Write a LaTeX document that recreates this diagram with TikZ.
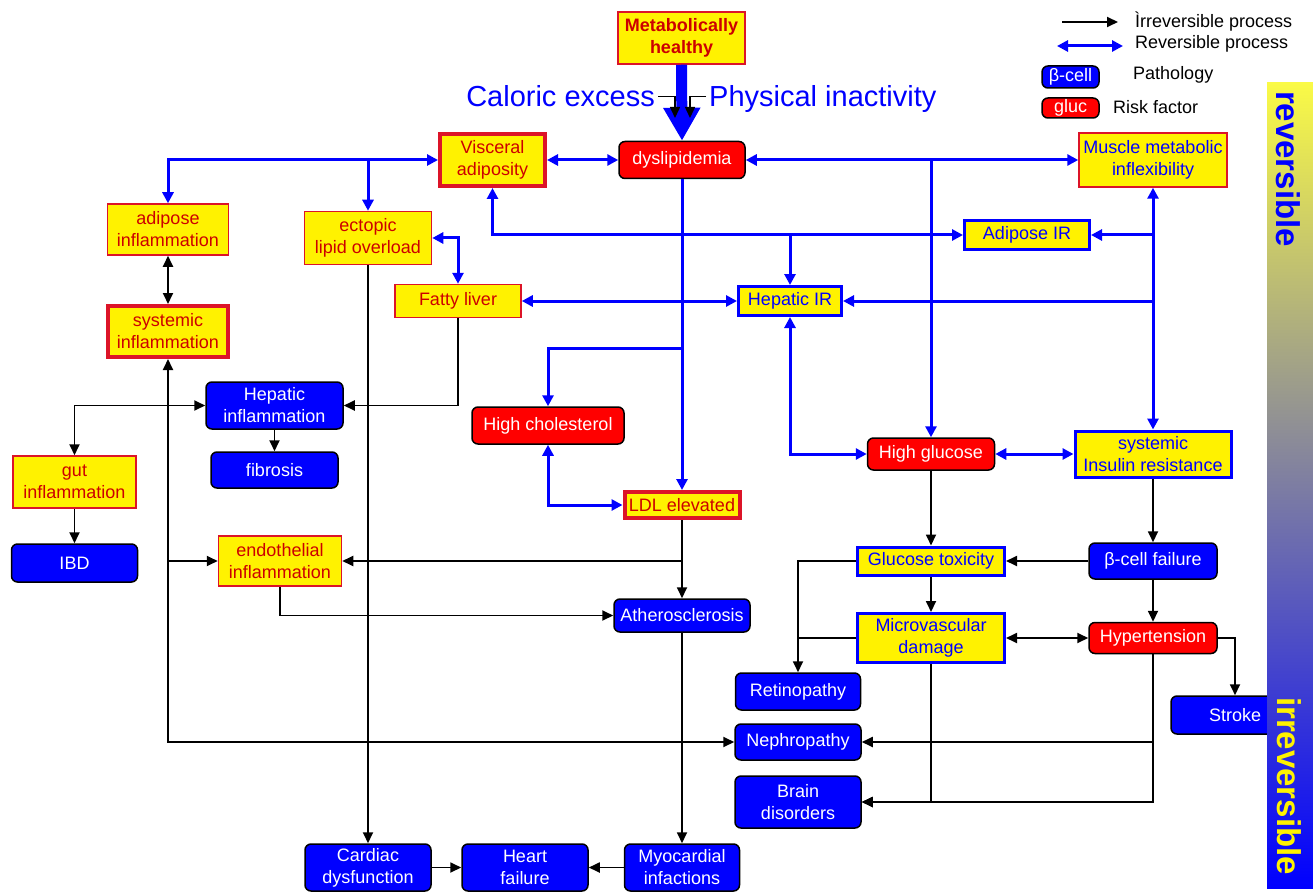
\documentclass[tikz,border=0pt]{standalone}
\usepackage{fontspec}
\setmainfont{Liberation Sans}
\usetikzlibrary{arrows.meta}
\definecolor{tred}{RGB}{204,0,0}
\definecolor{bred}{RGB}{220,20,40}
\definecolor{bartop}{RGB}{250,250,70}
\definecolor{barmid}{RGB}{190,190,170}
\begin{document}
\begin{tikzpicture}[x=1pt,y=-1pt,
  every node/.style={inner sep=0pt, align=center, font=\fontsize{18}{22}\selectfont},
  yb/.style={fill=yellow, draw=bred, line width=1.5pt, text=tred},
  ybt/.style={fill=yellow, draw=bred, line width=4pt, text=tred},
  yblu/.style={fill=yellow, draw=blue, line width=3pt, text=blue},
  rb/.style={fill=red, draw=black, line width=1.5pt, rounded corners=6pt, text=white},
  bb/.style={fill=blue, draw=black, line width=1.5pt, rounded corners=6pt, text=white},
  sz/.style 2 args={minimum width=#1pt, minimum height=#2pt},
  bl/.style={draw=blue, line width=3pt, >={Triangle[length=11pt,width=11pt]}},
  bk/.style={draw=black, line width=1.8pt, >={Triangle[length=11pt,width=10pt]}},
  big/.style={font=\fontsize{29}{32}\selectfont, text=blue},
  bartxt/.style={font=\fontsize{33}{36}\selectfont\bfseries, rotate=-90},
  legt/.style={anchor=west, font=\fontsize{18}{22}\selectfont}]
\useasboundingbox (0,0) rectangle (1313,893);

% ---------- nodes ----------
\node[yb, sz={127}{52}, font=\fontsize{18}{22}\selectfont\bfseries] (mh) at (681.5,38) {Metabolically\\healthy};
\node[rb, sz={126}{37}] (dysl) at (682,160) {dyslipidemia};
\node[ybt, sz={105}{52}] (visc) at (492.5,160) {Visceral\\adiposity};
\node[yb, sz={148}{54}, text=blue] (musc) at (1153,160) {Muscle metabolic\\inflexibility};
\node[yb, sz={121}{51}] (adinf) at (168,229.5) {adipose\\inflammation};
\node[yb, sz={127}{53}] (ectop) at (368,238) {ectopic\\lipid overload};
\node[yblu, sz={125}{29}] (adir) at (1027,235) {Adipose IR};
\node[yb, sz={126}{33}] (fatty) at (458,301) {Fatty liver};
\node[yblu, sz={103}{29}] (hepir) at (790,301) {Hepatic IR};
\node[ybt, sz={120}{51}] (sysinf) at (168,331.5) {systemic\\inflammation};
\node[bb, sz={137}{47}] (hepinf) at (274.5,405.5) {Hepatic\\inflammation};
\node[rb, sz={152}{37}] (hchol) at (548,425.5) {High cholesterol};
\node[rb, sz={127}{32}] (hglu) at (931,454) {High glucose};
\node[yblu, sz={156}{46}] (sir) at (1153,454) {systemic\\Insulin resistance};
\node[bb, sz={127}{36}] (fibr) at (274.5,470) {fibrosis};
\node[yb, sz={123}{52}] (gut) at (74.5,482) {gut\\inflammation};
\node[ybt, sz={115}{26}] (ldl) at (682,505) {LDL elevated};
\node[bb, sz={126}{38}] (ibd) at (74.5,563) {IBD};
\node[yb, sz={123}{50}] (endo) at (280,561) {endothelial\\inflammation};
\node[yblu, sz={147}{28}] (gtox) at (931,561) {Glucose toxicity};
\node[bb, sz={128}{36}] (bcf) at (1153,561) {β-cell failure};
\node[bb, sz={136}{33}] (ath) at (682,615.5) {Atherosclerosis};
\node[yblu, sz={147}{49}] (micro) at (931,638) {Microvascular\\damage};
\node[rb, sz={128}{31}] (hyp) at (1153,638) {Hypertension};
\node[bb, sz={125}{37}] (ret) at (798,691.5) {Retinopathy};
\node[bb, sz={128}{38}] (stroke) at (1235,715) {Stroke};
\node[bb, sz={126}{36}] (neph) at (798,742) {Nephropathy};
\node[bb, sz={126}{52}] (brain) at (798,802) {Brain\\disorders};
\node[bb, sz={126}{47}] (card) at (368,867.5) {Cardiac\\dysfunction};
\node[bb, sz={126}{47}] (hf) at (525,867.5) {Heart\\failure};
\node[bb, sz={115}{47}] (myo) at (682,867.5) {Myocardial\\infactions};

% ---------- causes ----------
\node[big, anchor=base east] (cal) at (655,107) {Caloric excess};
\node[big, anchor=base west] (phy) at (709,107) {Physical inactivity};
\coordinate (calTip) at (675,118);
\coordinate (phyTip) at (690,118);

\draw[blue, line width=11pt, -{Triangle[length=33pt,width=35pt]}] (mh.south) -- (dysl.north);
\draw[bk, line width=1.5pt, ->] ([xshift=3pt]cal.east) -| (calTip);
\draw[bk, line width=1.5pt, ->] ([xshift=-3pt]phy.west |- cal.east) -| (phyTip);

% ---------- blue (reversible) connectors ----------
\draw[bl,<->] (visc.west) -| (adinf.north);
\draw[bl,->] (ectop.north |- visc.west) -- (ectop.north);
\draw[bl,<->] (visc.east) -- (dysl.west);
\draw[bl,<->] (dysl.east) -- (musc.west);
\draw[bl,->] (hglu.north |- dysl.east) -- (hglu.north);
\draw[bl,<->] (ectop.east) -| (fatty.north);
\draw[bl,<->] (visc.south) |- (adir.west);
\draw[bl,->] (hepir.north |- adir.west) -- (hepir.north);
\draw[bl,<->] (fatty.east) -- (hepir.west);
\draw[bl,<->] (musc.south) -- (sir.north);
\draw[bl,->] (musc.south |- adir.east) -- (adir.east);
\draw[bl,->] (musc.south |- hepir.east) -- (hepir.east);
\draw[bl,->] (dysl.south) -- (ldl.north);
\coordinate (jchol) at (682,348);
\draw[bl,->] (jchol) -| (hchol.north);
\draw[bl,<->] (hchol.south) |- (ldl.west);
\draw[bl,<->] (hepir.south) |- (hglu.west);
\draw[bl,<->] (hglu.east) -- (sir.west);

% ---------- black (irreversible) connectors ----------
\draw[bk,<->] (adinf.south) -- (sysinf.north);
\draw[bk,<->] (sysinf.south) |- (neph.west);
\draw[bk,->] (sysinf.south |- endo.west) -- (endo.west);
\draw[bk,<->] (gut.north) |- (hepinf.west);
\draw[bk,->] (fatty.south) |- (hepinf.east);
\draw[bk,->] (hepinf.south) -- (fibr.north);
\draw[bk,->] (gut.south) -- (ibd.north);
\draw[bk,->] (ldl.south) -- (ath.north);
\draw[bk,->] (ldl.south |- endo.east) -- (endo.east);
\draw[bk,->] (endo.south) |- (ath.west);
\draw[bk,->] (ath.south) -- (myo.north);
\draw[bk,->] (ectop.south) -- (card.north);
\draw[bk,->] (card.east) -- (hf.west);
\draw[bk,->] (myo.west) -- (hf.east);
\draw[bk,->] (hglu.south) -- (gtox.north);
\draw[bk,->] (sir.south) -- (bcf.north);
\draw[bk,->] (bcf.west) -- (gtox.east);
\draw[bk,->] (bcf.south) -- (hyp.north);
\draw[bk,->] (gtox.south) -- (micro.north);
\draw[bk,<->] (micro.east) -- (hyp.west);
\draw[bk,->] (hyp.east) -| (stroke.north);
\draw[bk,->] (gtox.west) -| (ret.north);
\draw[bk] (micro.west) -- (ret.north |- micro.west);
\draw[bk,->] (hyp.south) |- (neph.east);
\draw[bk,->] (hyp.south) |- (brain.east);
\draw[bk,->] (micro.south) |- (brain.east);

% ---------- legend ----------
\coordinate (lk1) at (1062,22); \coordinate (lk2) at (1118,22);
\coordinate (lb1) at (1057,46); \coordinate (lb2) at (1123,46);
\draw[bk,->] (lk1) -- (lk2);
\draw[bl,<->] (lb1) -- (lb2);
\node[legt] (lt1) at (1135,22) {Ìrreversible process};
\node[legt] (lt2) at (1135,44) {Reversible process};
\node[bb, sz={57}{22}] (lbeta) at (1070.5,77) {β-cell};
\node[legt] (lt3) at (1133,75) {Pathology};
\node[rb, sz={57}{20}] (lgluc) at (1070.5,108) {gluc};
\node[legt] (lt4) at (1113,107) {Risk factor};

% ---------- reversibility bar ----------
\shade[top color=bartop, middle color=barmid, bottom color=blue] (1267,83) rectangle (1313,888);
\node[bartxt, text=blue] (rev) at (1288,169) {reversible};
\node[bartxt, text=yellow] (irr) at (1289,786) {irreversible};
\end{tikzpicture}
\end{document}
